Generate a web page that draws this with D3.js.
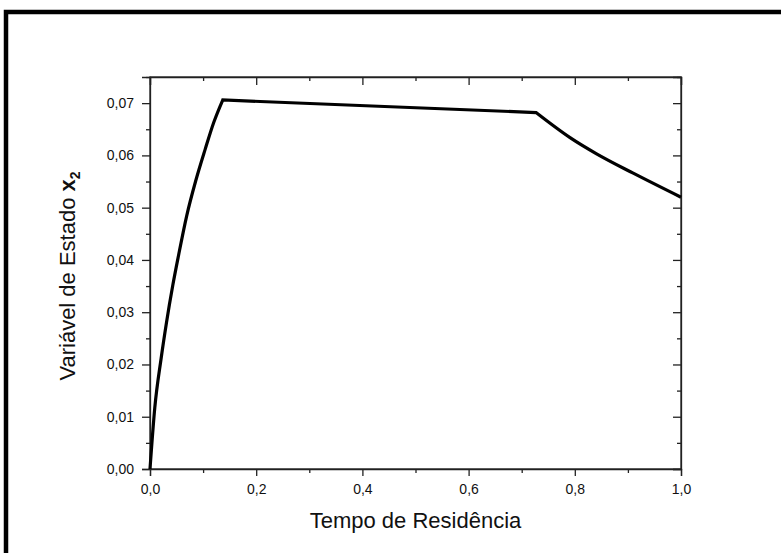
<!DOCTYPE html>
<html>
<head>
<meta charset="utf-8">
<script src="https://cdn.jsdelivr.net/npm/d3@7"></script>
<style>
  html, body { margin: 0; padding: 0; background: #fff; }
  svg { display: block; font-family: "Liberation Sans", Arial, sans-serif; }
</style>
</head>
<body>
<svg id="chart" width="781" height="553"></svg>
<script>
// Residence time (dimensionless) and state variable x2
const residenceTime = [0.000, 0.009, 0.021, 0.031, 0.043, 0.054, 0.069, 0.086, 0.104, 0.120, 0.137, 0.430, 0.727, 0.791, 0.841, 0.910, 1.000];
const stateX2      = [0.0000, 0.0117, 0.0212, 0.0280, 0.0352, 0.0410, 0.0484, 0.0551, 0.0612, 0.0663, 0.0706, 0.0694, 0.0682, 0.0634, 0.0603, 0.0566, 0.0520];
// residence times where the operating regime switches (corners in the profile)
const regimeBreaks = [0.137, 0.727];

const xMajorTicks = [0, 0.2, 0.4, 0.6, 0.8, 1.0];
const xMinorTicks = [0.1, 0.3, 0.5, 0.7, 0.9];
const yMajorTicks = [0, 0.01, 0.02, 0.03, 0.04, 0.05, 0.06, 0.07];
const yMinorTicks = [0.005, 0.015, 0.025, 0.035, 0.045, 0.055, 0.065, 0.075];

const xTitle = "Tempo de Residência";
const yTitle = "Variável de Estado ";

const svg = d3.select("#chart");
const plotLeft = 150, plotRight = 681, plotTop = 77, plotBottom = 469;

const x = d3.scaleLinear().domain([0, 1]).range([plotLeft, plotRight]);
const y = d3.scaleLinear().domain([0, 0.075]).range([plotBottom, plotTop]);

const fmtX = d => d3.format(".1f")(d).replace(".", ",");
const fmtY = d => d3.format(".2f")(d).replace(".", ",");

// outer frame (top and left edges visible)
svg.append("path")
  .attr("d", "M6,560 L6,12 L790,12")
  .attr("fill", "none")
  .attr("stroke", "#000")
  .attr("stroke-width", 4.5);

function styleAxis(g) {
  g.select(".domain").attr("stroke", "#222").attr("stroke-width", 1.3);
  g.selectAll(".tick line").attr("stroke", "#222").attr("stroke-width", 1.3);
  g.selectAll("text").attr("fill", "#111").style("font-size", "14px")
    .style("font-family", "'Liberation Sans', Arial, sans-serif");
}

// bottom axis
svg.append("g").attr("transform", `translate(0,${plotBottom})`)
  .call(d3.axisBottom(x).tickValues(xMajorTicks).tickFormat(fmtX).tickSize(7).tickPadding(8))
  .call(styleAxis);
svg.append("g").attr("transform", `translate(0,${plotBottom})`)
  .call(d3.axisBottom(x).tickValues(xMinorTicks).tickFormat("").tickSize(4))
  .call(styleAxis).select(".domain").remove();

// top axis (ticks inward)
svg.append("g").attr("transform", `translate(0,${plotTop})`)
  .call(d3.axisTop(x).tickValues(xMajorTicks).tickFormat("").tickSize(-8))
  .call(styleAxis);
svg.append("g").attr("transform", `translate(0,${plotTop})`)
  .call(d3.axisTop(x).tickValues(xMinorTicks).tickFormat("").tickSize(-4))
  .call(styleAxis).select(".domain").remove();

// left axis
svg.append("g").attr("transform", `translate(${plotLeft},0)`)
  .call(d3.axisLeft(y).tickValues(yMajorTicks).tickFormat(fmtY).tickSize(8).tickPadding(8))
  .call(styleAxis);
svg.append("g").attr("transform", `translate(${plotLeft},0)`)
  .call(d3.axisLeft(y).tickValues(yMinorTicks).tickFormat("").tickSize(4))
  .call(styleAxis).select(".domain").remove();

// right axis (ticks inward)
svg.append("g").attr("transform", `translate(${plotRight},0)`)
  .call(d3.axisRight(y).tickValues(yMajorTicks).tickFormat("").tickSize(-8))
  .call(styleAxis);
svg.append("g").attr("transform", `translate(${plotRight},0)`)
  .call(d3.axisRight(y).tickValues(yMinorTicks).tickFormat("").tickSize(-4))
  .call(styleAxis).select(".domain").remove();

// close the box
svg.append("rect")
  .attr("x", plotLeft).attr("y", plotTop)
  .attr("width", plotRight - plotLeft).attr("height", plotBottom - plotTop)
  .attr("fill", "none").attr("stroke", "#222").attr("stroke-width", 1.3);

// profile: smooth within each regime, sharp corners at the switch points
const pts = residenceTime.map((t, i) => [t, stateX2[i]]);
const bounds = [-Infinity, ...regimeBreaks, Infinity];
const segments = [];
for (let k = 0; k < bounds.length - 1; k++) {
  segments.push(pts.filter(p => p[0] >= (k === 0 ? bounds[k] : bounds[k]) && p[0] <= bounds[k + 1]));
}
const line = d3.line().x(d => x(d[0])).y(d => y(d[1])).curve(d3.curveMonotoneX);
const pathStr = segments.map(s => line(s)).join("");
svg.append("path")
  .attr("fill", "none")
  .attr("stroke", "#000")
  .attr("stroke-width", 3.2)
  .attr("stroke-linejoin", "miter")
  .attr("d", pathStr.replace(/M(?!^)/g, (m, off) => off === 0 ? m : "L"));

// axis titles
svg.append("text")
  .attr("x", (plotLeft + plotRight) / 2).attr("y", 528)
  .attr("text-anchor", "middle")
  .style("font-size", "22px").attr("fill", "#111")
  .text(xTitle);

const yt = svg.append("text")
  .attr("transform", `translate(75,${(plotTop + plotBottom) / 2 + 3}) rotate(-90)`)
  .attr("text-anchor", "middle")
  .style("font-size", "22px").attr("fill", "#111");
yt.append("tspan").text(yTitle);
yt.append("tspan").style("font-weight", "bold").text("x");
yt.append("tspan").style("font-weight", "bold").style("font-size", "14px").attr("dy", 5).text("2");
</script>
</body>
</html>
